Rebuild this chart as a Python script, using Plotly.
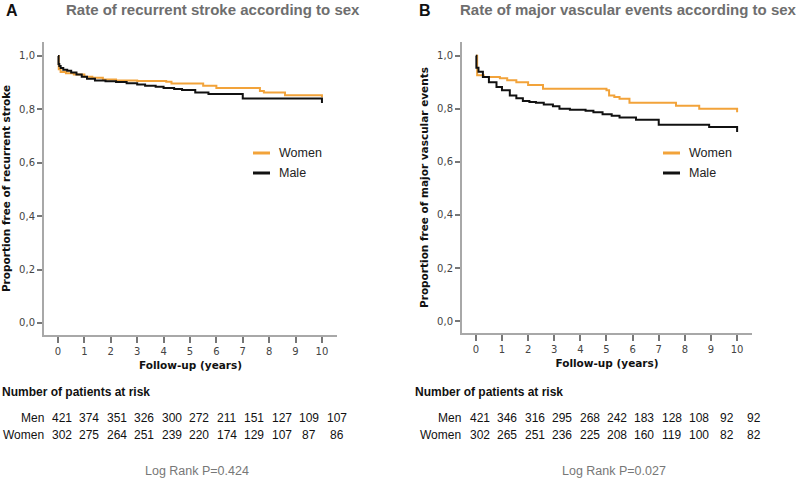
import plotly.graph_objects as go

# ---------------- data ----------------
years = [0, 1, 2, 3, 4, 5, 6, 7, 8, 9, 10]
year_labels = ["0", "1", "2", "3", "4", "5", "6", "7", "8", "9", "10"]
y_ticks = [0.0, 0.2, 0.4, 0.6, 0.8, 1.0]
y_tick_labels = ["0,0", "0,2", "0,4", "0,6", "0,8", "1,0"]

# Panel A: recurrent stroke
a_men_t = [0, 0.02, 0.05, 0.1, 0.2, 0.35, 0.5, 0.7, 0.9, 1.1, 1.4, 1.8, 2.2, 2.6, 3.0, 3.3,
           3.7, 4.0, 4.4, 4.7, 5.2, 5.7, 7.0, 10.0, 10.0]
a_men_s = [1.0, 0.97, 0.962, 0.955, 0.948, 0.944, 0.938, 0.93, 0.922, 0.914, 0.908, 0.905,
           0.902, 0.898, 0.893, 0.888, 0.884, 0.88, 0.876, 0.872, 0.863, 0.857, 0.84, 0.84, 0.824]
a_women_t = [0, 0.03, 0.1, 0.3, 0.6, 1.0, 1.3, 1.7, 2.2, 3.0, 4.1, 4.3, 5.5, 6.0, 7.65,
             7.8, 8.6, 10.0, 10.0]
a_women_s = [1.0, 0.95, 0.94, 0.935, 0.93, 0.922, 0.918, 0.912, 0.908, 0.906, 0.903, 0.897,
             0.888, 0.88, 0.869, 0.863, 0.853, 0.853, 0.845]

# Panel B: major vascular events
b_men_t = [0, 0.02, 0.1, 0.27, 0.5, 0.79, 1.0, 1.3, 1.55, 1.8, 2.05, 2.3, 2.6, 2.95, 3.2,
           3.6, 4.2, 4.5, 4.85, 5.2, 5.5, 6.13, 7.0, 8.93, 10.0, 10.0]
b_men_s = [1.0, 0.955, 0.94, 0.92, 0.9, 0.882, 0.87, 0.85, 0.84, 0.83, 0.826, 0.823, 0.816,
           0.81, 0.80, 0.797, 0.793, 0.787, 0.78, 0.774, 0.767, 0.759, 0.74, 0.732, 0.732, 0.713]
b_women_t = [0, 0.05, 0.3, 0.92, 1.2, 1.55, 2.0, 2.57, 5.0, 5.1, 5.3, 5.5, 5.88, 7.66, 8.55,
             10.0, 10.0]
b_women_s = [1.0, 0.927, 0.92, 0.915, 0.908, 0.90, 0.89, 0.876, 0.87, 0.85, 0.845, 0.838,
             0.823, 0.812, 0.80, 0.80, 0.787]

risk_a_men = [421, 374, 351, 326, 300, 272, 211, 151, 127, 109, 107]
risk_a_women = [302, 275, 264, 251, 239, 220, 174, 129, 107, 87, 86]
risk_b_men = [421, 346, 316, 295, 268, 242, 183, 128, 108, 92, 92]
risk_b_women = [302, 265, 251, 236, 225, 208, 160, 119, 100, 82, 82]

title_a = "Rate of recurrent stroke according to sex"
title_b = "Rate of major vascular events according to sex"
ytitle_a = "Proportion free of recurrent stroke"
ytitle_b = "Proportion free of major vascular events"
p_a = "Log Rank P=0.424"
p_b = "Log Rank P=0.027"

# ---------------- styling ----------------
W, H = 800, 478
ORANGE = "#F2A33A"
BLACK = "#111111"
AXIS_GRAY = "#A8A8A8"
TICK_FONT = dict(family="DejaVu Sans", size=10, color="#444444")
TITLE_FONT = dict(family="Liberation Sans", size=15, color="#6E6E6E")
AX_TITLE_FONT = dict(family="DejaVu Sans", size=10.5, color="#111111")

fig = go.Figure()

fig.add_trace(go.Scatter(x=a_women_t, y=a_women_s, mode="lines", line=dict(color=ORANGE, width=2, shape="hv"),
                         xaxis="x", yaxis="y", showlegend=False, name="Women"))
fig.add_trace(go.Scatter(x=a_men_t, y=a_men_s, mode="lines", line=dict(color=BLACK, width=2, shape="hv"),
                         xaxis="x", yaxis="y", showlegend=False, name="Male"))
fig.add_trace(go.Scatter(x=b_women_t, y=b_women_s, mode="lines", line=dict(color=ORANGE, width=2, shape="hv"),
                         xaxis="x2", yaxis="y2", showlegend=False, name="Women"))
fig.add_trace(go.Scatter(x=b_men_t, y=b_men_s, mode="lines", line=dict(color=BLACK, width=2, shape="hv"),
                         xaxis="x2", yaxis="y2", showlegend=False, name="Male"))


def xaxis(domain, anchor):
    return dict(domain=domain, anchor=anchor, range=[-0.53, 10.57], tickmode="array",
                tickvals=years, ticktext=year_labels, ticks="outside", ticklen=6,
                tickcolor="#777777", tickwidth=1.5, showline=True, linecolor=AXIS_GRAY,
                linewidth=2, showgrid=False, zeroline=False, tickfont=TICK_FONT,
                title=dict(text="<b>Follow-up (years)</b>", font=AX_TITLE_FONT, standoff=6))


def yaxis(domain, anchor, title):
    return dict(domain=domain, anchor=anchor, range=[-0.045, 1.052], tickmode="array",
                tickvals=y_ticks, ticktext=y_tick_labels, ticks="outside", ticklen=5,
                tickcolor="#777777", tickwidth=1.5, showline=True, linecolor=AXIS_GRAY,
                linewidth=2, showgrid=False, zeroline=False, tickfont=TICK_FONT,
                title=dict(text="<b>" + title + "</b>", font=AX_TITLE_FONT, standoff=6))


fig.update_layout(
    width=W, height=H, margin=dict(l=0, r=0, t=0, b=0),
    paper_bgcolor="white", plot_bgcolor="white",
    xaxis=xaxis([44 / W, 337 / W], "y"),
    yaxis=yaxis([1 - 335 / H, 1 - 42 / H], "x", ytitle_a),
    xaxis2=xaxis([462 / W, 752 / W], "y2"),
    yaxis2=yaxis([1 - 333 / H, 1 - 42 / H], "x2", ytitle_b),
    showlegend=False,
)

ann = []
# panel letters and titles
ann.append(dict(text="<b>A</b>", x=4 / W, y=1 - 11 / H, xanchor="left", yanchor="middle",
                font=dict(family="Liberation Sans", size=16, color="#111111")))
ann.append(dict(text="<b>B</b>", x=417 / W, y=1 - 11 / H, xanchor="left", yanchor="middle",
                font=dict(family="Liberation Sans", size=16, color="#111111")))
ann.append(dict(text="<b>" + title_a + "</b>", x=213 / W, y=1 - 9 / H, xanchor="center", yanchor="middle",
                font=TITLE_FONT))
ann.append(dict(text="<b>" + title_b + "</b>", x=628 / W, y=1 - 9 / H, xanchor="center", yanchor="middle",
                font=TITLE_FONT))

# legends (drawn manually)
shapes = []
for (lx, tx) in [(253, 277), (663, 687)]:
    for (label, color, ly) in [("Women", ORANGE, 153), ("Male", BLACK, 173)]:
        shapes.append(dict(type="line", xref="paper", yref="paper", x0=lx / W, x1=(lx + 17) / W,
                           y0=1 - ly / H, y1=1 - ly / H, line=dict(color=color, width=3)))
        ann.append(dict(text=label, x=tx / W, y=1 - ly / H, xanchor="left", yanchor="middle",
                        font=dict(family="Liberation Sans", size=12.5, color="#222222")))

# number at risk tables
TABLE_FONT = dict(family="Liberation Sans", size=12, color="#111111")
for (head_x, lab_right, c0, step, men, women, ptxt, pcx) in [
        (0, 46, 61.7, 27.5, risk_a_men, risk_a_women, p_a, 197),
        (413, 463, 480, 27.4, risk_b_men, risk_b_women, p_b, 614)]:
    ann.append(dict(text="<b>Number of patients at risk</b>", x=head_x / W, y=1 - 392 / H,
                    xanchor="left", yanchor="middle",
                    font=dict(family="Liberation Sans", size=12, color="#111111")))
    for (lab, vals, yy) in [("Men", men, 418), ("Women", women, 435)]:
        ann.append(dict(text=lab, x=lab_right / W, y=1 - yy / H, xanchor="right", yanchor="middle",
                        font=TABLE_FONT))
        for i, v in enumerate(vals):
            ann.append(dict(text=str(v), x=(c0 + step * i) / W, y=1 - yy / H, xanchor="center",
                            yanchor="middle", font=TABLE_FONT))
    ann.append(dict(text=ptxt, x=pcx / W, y=1 - 471 / H, xanchor="center", yanchor="middle",
                    font=dict(family="Liberation Sans", size=12.5, color="#777777")))

for a in ann:
    a.setdefault("xref", "paper")
    a.setdefault("yref", "paper")
    a["showarrow"] = False
fig.update_layout(annotations=ann, shapes=shapes)

fig.write_html("out.html", config={"displayModeBar": False},
               post_script="document.body.style.margin='0';document.body.style.overflow='hidden';")
